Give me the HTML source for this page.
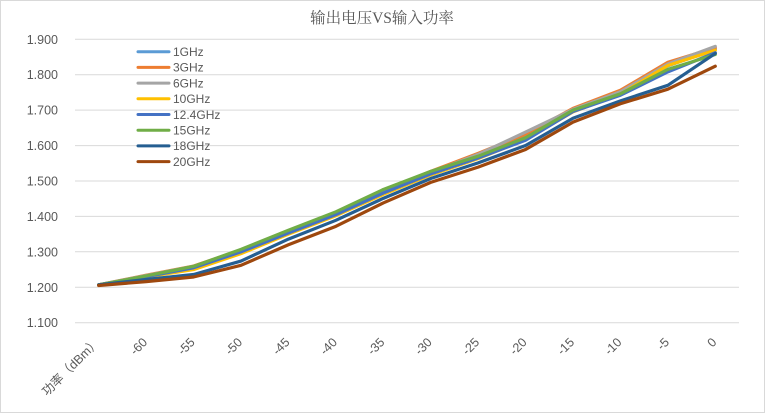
<!DOCTYPE html>
<html><head><meta charset="utf-8"><style>
html,body{margin:0;padding:0;background:#fff;}
svg{display:block;}
text{font-family:"Liberation Sans","Noto Sans CJK SC",sans-serif;fill:#595959;}
</style></head><body>
<svg width="765" height="413" viewBox="0 0 765 413" xmlns="http://www.w3.org/2000/svg">
<rect x="0.5" y="0.5" width="764" height="412" fill="#fff" stroke="#d9d9d9" stroke-width="1"/>
<text x="382" y="23" text-anchor="middle" style="font-family:'Liberation Serif','Noto Serif CJK SC',serif;font-size:15.5px;">输出电压VS输入功率</text>
<g stroke="#d9d9d9" stroke-width="1">
<line x1="75" x2="739" y1="322.7" y2="322.7"/>
<line x1="75" x2="739" y1="287.3" y2="287.3"/>
<line x1="75" x2="739" y1="251.8" y2="251.8"/>
<line x1="75" x2="739" y1="216.4" y2="216.4"/>
<line x1="75" x2="739" y1="181.0" y2="181.0"/>
<line x1="75" x2="739" y1="145.6" y2="145.6"/>
<line x1="75" x2="739" y1="110.1" y2="110.1"/>
<line x1="75" x2="739" y1="74.7" y2="74.7"/>
<line x1="75" x2="739" y1="39.3" y2="39.3"/>
</g>
<g font-size="12.5" text-anchor="end">
<text x="58" y="327.2">1.100</text>
<text x="58" y="291.8">1.200</text>
<text x="58" y="256.3">1.300</text>
<text x="58" y="220.9">1.400</text>
<text x="58" y="185.5">1.500</text>
<text x="58" y="150.1">1.600</text>
<text x="58" y="114.6">1.700</text>
<text x="58" y="79.2">1.800</text>
<text x="58" y="43.8">1.900</text>
</g>
<g font-size="12.5" text-anchor="end">
<text x="100.7" y="343" transform="rotate(-45 100.7 343)">功率（dBm）</text>
<text x="148.1" y="343" transform="rotate(-45 148.1 343)">-60</text>
<text x="195.6" y="343" transform="rotate(-45 195.6 343)">-55</text>
<text x="243.0" y="343" transform="rotate(-45 243.0 343)">-50</text>
<text x="290.4" y="343" transform="rotate(-45 290.4 343)">-45</text>
<text x="337.9" y="343" transform="rotate(-45 337.9 343)">-40</text>
<text x="385.3" y="343" transform="rotate(-45 385.3 343)">-35</text>
<text x="432.7" y="343" transform="rotate(-45 432.7 343)">-30</text>
<text x="480.1" y="343" transform="rotate(-45 480.1 343)">-25</text>
<text x="527.6" y="343" transform="rotate(-45 527.6 343)">-20</text>
<text x="575.0" y="343" transform="rotate(-45 575.0 343)">-15</text>
<text x="622.4" y="343" transform="rotate(-45 622.4 343)">-10</text>
<text x="669.9" y="343" transform="rotate(-45 669.9 343)">-5</text>
<text x="717.3" y="343" transform="rotate(-45 717.3 343)">0</text>
</g>
<g transform="translate(98.7 712.43) scale(47.43 -354.3)" fill="none" stroke-width="3.2" stroke-linejoin="round" stroke-linecap="round">
<polyline vector-effect="non-scaling-stroke" stroke="#5B9BD5" points="0,1.207 1,1.232 2,1.257 3,1.300 4,1.356 5,1.405 6,1.468 7,1.522 8,1.572 9,1.628 10,1.700 11,1.750 12,1.825 13,1.872"/>
<polyline vector-effect="non-scaling-stroke" stroke="#ED7D31" points="0,1.207 1,1.234 2,1.260 3,1.305 4,1.360 5,1.410 6,1.472 7,1.527 8,1.578 9,1.632 10,1.705 11,1.756 12,1.835 13,1.876"/>
<polyline vector-effect="non-scaling-stroke" stroke="#A5A5A5" points="0,1.207 1,1.233 2,1.259 3,1.303 4,1.358 5,1.408 6,1.470 7,1.524 8,1.575 9,1.638 10,1.702 11,1.752 12,1.830 13,1.880"/>
<polyline vector-effect="non-scaling-stroke" stroke="#FFC000" points="0,1.207 1,1.229 2,1.250 3,1.295 4,1.350 5,1.402 6,1.462 7,1.517 8,1.563 9,1.617 10,1.695 11,1.745 12,1.826 13,1.869"/>
<polyline vector-effect="non-scaling-stroke" stroke="#4472C4" points="0,1.207 1,1.230 2,1.255 3,1.300 4,1.353 5,1.405 6,1.466 7,1.520 8,1.565 9,1.615 10,1.696 11,1.742 12,1.808 13,1.862"/>
<polyline vector-effect="non-scaling-stroke" stroke="#70AD47" points="0,1.207 1,1.232 2,1.259 3,1.307 4,1.361 5,1.413 6,1.476 7,1.527 8,1.570 9,1.622 10,1.700 11,1.746 12,1.815 13,1.857"/>
<polyline vector-effect="non-scaling-stroke" stroke="#255E91" points="0,1.207 1,1.222 2,1.236 3,1.274 4,1.336 5,1.389 6,1.451 7,1.507 8,1.551 9,1.600 10,1.677 11,1.726 12,1.770 13,1.860"/>
<polyline vector-effect="non-scaling-stroke" stroke="#9E480E" points="0,1.205 1,1.216 2,1.229 3,1.262 4,1.320 5,1.372 6,1.438 7,1.496 8,1.539 9,1.589 10,1.666 11,1.718 12,1.759 13,1.824"/>
</g>
<g stroke-width="3" stroke-linecap="round">
<line x1="138" x2="169" y1="51.7" y2="51.7" stroke="#5B9BD5"/>
<line x1="138" x2="169" y1="67.4" y2="67.4" stroke="#ED7D31"/>
<line x1="138" x2="169" y1="83.1" y2="83.1" stroke="#A5A5A5"/>
<line x1="138" x2="169" y1="98.8" y2="98.8" stroke="#FFC000"/>
<line x1="138" x2="169" y1="114.5" y2="114.5" stroke="#4472C4"/>
<line x1="138" x2="169" y1="130.2" y2="130.2" stroke="#70AD47"/>
<line x1="138" x2="169" y1="145.9" y2="145.9" stroke="#255E91"/>
<line x1="138" x2="169" y1="161.6" y2="161.6" stroke="#9E480E"/>
</g>
<g font-size="12">
<text x="173" y="56">1GHz</text>
<text x="173" y="71.7">3GHz</text>
<text x="173" y="87.4">6GHz</text>
<text x="173" y="103.1">10GHz</text>
<text x="173" y="118.8">12.4GHz</text>
<text x="173" y="134.5">15GHz</text>
<text x="173" y="150.2">18GHz</text>
<text x="173" y="165.9">20GHz</text>
</g>
</svg>
</body></html>
